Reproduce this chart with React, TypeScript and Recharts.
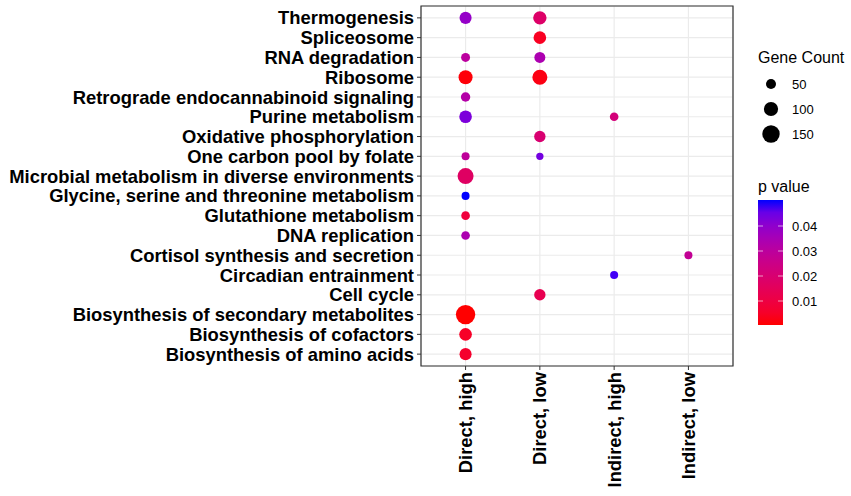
import { ScatterChart, Scatter, XAxis, YAxis, ZAxis, CartesianGrid, Cell, ReferenceArea } from 'recharts';

const pathways = [
  'Thermogenesis',
  'Spliceosome',
  'RNA degradation',
  'Ribosome',
  'Retrograde endocannabinoid signaling',
  'Purine metabolism',
  'Oxidative phosphorylation',
  'One carbon pool by folate',
  'Microbial metabolism in diverse environments',
  'Glycine, serine and threonine metabolism',
  'Glutathione metabolism',
  'DNA replication',
  'Cortisol synthesis and secretion',
  'Circadian entrainment',
  'Cell cycle',
  'Biosynthesis of secondary metabolites',
  'Biosynthesis of cofactors',
  'Biosynthesis of amino acids',
];

const groups = ['Direct, high', 'Direct, low', 'Indirect, high', 'Indirect, low'];

// gene counts per group (null = pathway not enriched)
const directHighCount = [72, null, 40, 97, 44, 79, null, 32, 127, 32, 37, 37, null, null, null, 186, 79, 72];
const directLowCount = [89, 79, 60, 112, null, null, 64, 27, null, null, null, null, null, null, 64, null, null, null];
const indirectHighCount = [null, null, null, null, null, 37, null, null, null, null, null, null, null, 32, null, null, null, null];
const indirectLowCount = [null, null, null, null, null, null, null, null, null, null, null, null, 32, null, null, null, null, null];

// p values per group
const directHighP = [0.039, null, 0.03, 0.001, 0.032, 0.043, null, 0.029, 0.017, 0.0504, 0.009, 0.034, null, null, null, 0.0004, 0.005, 0.006];
const directLowP = [0.018, 0.004, 0.034, 0.002, null, null, 0.02, 0.044, null, null, null, null, null, null, 0.013, null, null, null];
const indirectHighP = [null, null, null, null, null, 0.022, null, null, null, null, null, null, null, 0.0485, null, null, null, null];
const indirectLowP = [null, null, null, null, null, null, null, null, null, null, null, null, 0.028, null, null, null, null, null];

const legendCounts = [50, 100, 150];
const legendP = [0.01, 0.02, 0.03, 0.04];

const counts = [directHighCount, directLowCount, indirectHighCount, indirectLowCount];
const pvals = [directHighP, directLowP, indirectHighP, indirectLowP];

const points: { x: number; y: number; z: number; p: number }[] = [];
counts.forEach((col, g) => {
  col.forEach((c, i) => {
    const p = pvals[g][i];
    if (c != null && p != null) points.push({ x: g + 1, y: i + 1, z: c, p });
  });
});

const allP = points.map((d) => d.p);
const pMin = Math.min(...allP);
const pMax = Math.max(...allP);

// red -> blue gradient interpolated in CIELAB, like ggplot's scale_colour_gradient
function toLinear(c: number) {
  c /= 255;
  return c <= 0.04045 ? c / 12.92 : Math.pow((c + 0.055) / 1.055, 2.4);
}
function fromLinear(c: number) {
  const v = c <= 0.0031308 ? 12.92 * c : 1.055 * Math.pow(c, 1 / 2.4) - 0.055;
  return Math.round(Math.min(1, Math.max(0, v)) * 255);
}
const WX = 0.95047, WY = 1, WZ = 1.08883;
function rgbToLab([r, g, b]: number[]) {
  const R = toLinear(r), G = toLinear(g), B = toLinear(b);
  const X = (R * 0.4124 + G * 0.3576 + B * 0.1805) / WX;
  const Y = (R * 0.2126 + G * 0.7152 + B * 0.0722) / WY;
  const Z = (R * 0.0193 + G * 0.1192 + B * 0.9505) / WZ;
  const f = (t: number) => (t > 0.008856 ? Math.cbrt(t) : 7.787 * t + 16 / 116);
  return [116 * f(Y) - 16, 500 * (f(X) - f(Y)), 200 * (f(Y) - f(Z))];
}
function labToHex([L, a, b]: number[]) {
  const fy = (L + 16) / 116;
  const fx = fy + a / 500;
  const fz = fy - b / 200;
  const inv = (t: number) => (t * t * t > 0.008856 ? t * t * t : (t - 16 / 116) / 7.787);
  const X = inv(fx) * WX, Y = inv(fy) * WY, Z = inv(fz) * WZ;
  const R = X * 3.2406 + Y * -1.5372 + Z * -0.4986;
  const G = X * -0.9689 + Y * 1.8758 + Z * 0.0415;
  const B = X * 0.0557 + Y * -0.204 + Z * 1.057;
  return '#' + [R, G, B].map((v) => fromLinear(v).toString(16).padStart(2, '0')).join('');
}
const labLow = rgbToLab([255, 0, 0]);
const labHigh = rgbToLab([0, 0, 255]);
function colorFor(p: number) {
  const t = Math.min(1, Math.max(0, (p - pMin) / (pMax - pMin)));
  return labToHex(labLow.map((v, k) => v + (labHigh[k] - v) * t));
}

const Z_DOMAIN = [0, 200];
const Z_RANGE = [0, 317];
const radiusFor = (c: number) => Math.sqrt(((c / Z_DOMAIN[1]) * Z_RANGE[1]) / Math.PI);

const FONT = 'Liberation Sans, Arial, sans-serif';

const XTick = (props: any) => {
  const { x, y, payload } = props;
  return (
    <text
      x={x}
      y={y}
      transform={`rotate(-90, ${x}, ${y})`}
      dy="0.35em"
      textAnchor="end"
      fontFamily={FONT}
      fontWeight="bold"
      fontSize={18.4}
      fill="#000"
    >
      {groups[payload.value - 1]}
    </text>
  );
};

function Legends() {
  const barTop = 200;
  const barH = 125;
  const barX = 758;
  const barW = 25;
  const pToY = (p: number) => barTop + barH - ((p - pMin) / (pMax - pMin)) * barH;
  const stops = Array.from({ length: 11 }, (_, k) => k / 10);
  return (
    <svg width={851} height={496} style={{ position: 'absolute', left: 0, top: 0, pointerEvents: 'none' }}>
      <defs>
        <linearGradient id="pgrad" x1="0" y1="1" x2="0" y2="0">
          {stops.map((s) => (
            <stop key={s} offset={s} stopColor={colorFor(pMin + s * (pMax - pMin))} />
          ))}
        </linearGradient>
      </defs>
      <text x={758} y={63} fontFamily={FONT} fontSize={16} fill="#000">Gene Count</text>
      {legendCounts.map((c, i) => (
        <g key={c}>
          <circle cx={771} cy={84 + i * 25} r={radiusFor(c)} fill="#000" />
          <text x={792} y={84 + i * 25} dy="0.35em" fontFamily={FONT} fontSize={13} fill="#000">{c}</text>
        </g>
      ))}
      <text x={758} y={192} fontFamily={FONT} fontSize={16} fill="#000">p value</text>
      <rect x={barX} y={barTop} width={barW} height={barH} fill="url(#pgrad)" />
      {legendP.map((p) => (
        <g key={p}>
          <line x1={barX} x2={barX + 5} y1={pToY(p)} y2={pToY(p)} stroke="#fff" strokeOpacity={0.6} strokeWidth={1} />
          <line x1={barX + barW - 5} x2={barX + barW} y1={pToY(p)} y2={pToY(p)} stroke="#fff" strokeOpacity={0.6} strokeWidth={1} />
          <text x={792} y={pToY(p)} dy="0.35em" fontFamily={FONT} fontSize={13} fill="#000">{p.toFixed(2)}</text>
        </g>
      ))}
    </svg>
  );
}

export default function App() {
  return (
    <div style={{ position: 'absolute', left: 0, top: 0, width: 851, height: 496, background: '#fff' }}>
      <ScatterChart width={851} height={496} margin={{ top: 6, right: 118, bottom: 0, left: 0 }}>
        <CartesianGrid stroke="#EBEBEB" strokeWidth={1.2} />
        <XAxis
          type="number"
          dataKey="x"
          domain={[0.4, 4.6]}
          ticks={[1, 2, 3, 4]}
          interval={0}
          height={130}
          axisLine={false}
          tickSize={4}
          tickLine={{ stroke: '#333' }}
          tick={<XTick />}
        />
        <YAxis
          type="number"
          dataKey="y"
          domain={[0.4, 18.6]}
          ticks={pathways.map((_, i) => i + 1)}
          interval={0}
          reversed
          width={421}
          axisLine={false}
          tickSize={4}
          tickMargin={3}
          tickLine={{ stroke: '#333' }}
          tickFormatter={(v: number) => pathways[v - 1]}
          tick={{ fill: '#000', fontFamily: FONT, fontWeight: 'bold', fontSize: 18.4 }}
        />
        <ZAxis type="number" dataKey="z" domain={Z_DOMAIN} range={Z_RANGE} />
        <ReferenceArea x1={0.4} x2={4.6} y1={0.4} y2={18.6} fill="none" stroke="#333" strokeWidth={1.2} ifOverflow="visible" />
        <Scatter data={points} isAnimationActive={false}>
          {points.map((d, i) => (
            <Cell key={i} fill={colorFor(d.p)} />
          ))}
        </Scatter>
      </ScatterChart>
      <Legends />
    </div>
  );
}
